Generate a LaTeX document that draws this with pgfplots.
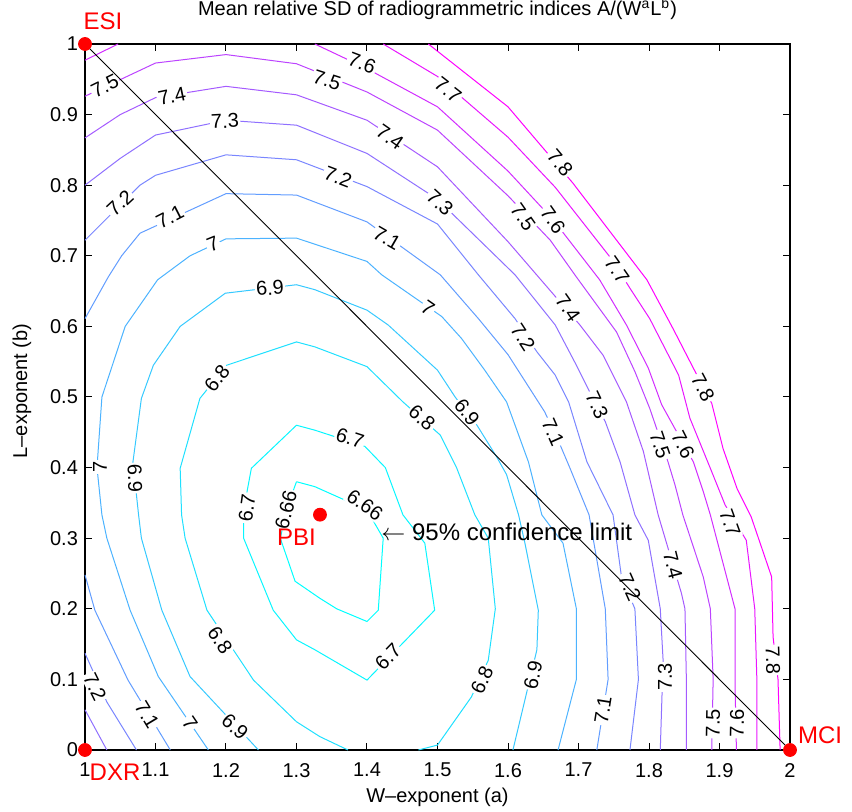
\documentclass[border=0pt]{standalone}
\usepackage{fontspec}
\setmainfont{Liberation Sans}
\usepackage{pgfplots}
\pgfplotsset{compat=1.18}
\definecolor{c666}{rgb}{0,1,1}
\definecolor{c67}{rgb}{0.035,0.965,1}
\definecolor{c68}{rgb}{0.123,0.877,1}
\definecolor{c69}{rgb}{0.211,0.789,1}
\definecolor{c70}{rgb}{0.298,0.702,1}
\definecolor{c71}{rgb}{0.386,0.614,1}
\definecolor{c72}{rgb}{0.474,0.526,1}
\definecolor{c73}{rgb}{0.561,0.439,1}
\definecolor{c74}{rgb}{0.649,0.351,1}
\definecolor{c75}{rgb}{0.737,0.263,1}
\definecolor{c76}{rgb}{0.825,0.175,1}
\definecolor{c77}{rgb}{0.912,0.088,1}
\definecolor{c78}{rgb}{1,0,1}
\tikzset{clab/.style={fill=white, inner sep=0.7pt, text=black, font=\fontsize{10}{12}\selectfont},
  redlab/.style={text=red, inner sep=0pt, font=\fontsize{12}{14}\selectfont}}
% label at reference pixel position (px,py), rotated
\newcommand\lab[4]{%
  \pgfmathsetmacro\la{1+(#1-85)/705}%
  \pgfmathsetmacro\lb{(750-#2)/706}%
  \edef\temp{\noexpand\node[clab,rotate=#3] at (axis cs:\la,\lb) {#4};}%
  \temp}
\begin{document}
\begin{tikzpicture}
\begin{axis}[name=ax, scale only axis, width=352.5pt, height=353pt,
  xmin=1, xmax=2, ymin=0, ymax=1, clip=false,
  xtick={1,1.1,1.2,1.3,1.4,1.5,1.6,1.7,1.8,1.9,2},
  ytick={0,0.1,0.2,0.3,0.4,0.5,0.6,0.7,0.8,0.9,1},
  tick align=inside, tick pos=both, xticklabel pos=lower, yticklabel pos=left,
  major tick length=3.5pt,
  every tick/.style={black, line width=0.5pt},
  axis line style={line width=0.9pt},
  /pgf/number format/assume math mode=true,
  tick label style={font=\fontsize{10}{12}\selectfont},
  xticklabel style={yshift=-3pt},
  title={Mean relative SD of radiogrammetric indices A/(W\textsuperscript{a}L\textsuperscript{b})},
  title style={at={(axis description cs:0.5,1)}, anchor=center, yshift=11.5pt, font=\fontsize{10}{12}\selectfont},
  xlabel={W–exponent (a)},
  xlabel style={at={(axis description cs:0.5,0)}, anchor=center, yshift=-23.5pt, font=\fontsize{10}{12}\selectfont},
  ylabel={L–exponent (b)},
  ylabel style={at={(axis description cs:0,0.5085)}, anchor=center, yshift=31.5pt, font=\fontsize{10}{12}\selectfont},
  every axis plot/.append style={line width=0.5pt},
]
% 7.8
\addplot[c78] coordinates {(1.487,1) (1.6,0.911) (1.692,0.803) (1.797,0.666) (1.834,0.597) (1.868,0.531) (1.889,0.491) (1.905,0.427) (1.925,0.37) (1.945,0.33) (1.974,0.245) (1.976,0.16) (1.983,0.1) (1.986,0)};
% 7.7
\addplot[c77] coordinates {(1.423,1) (1.5,0.954) (1.6,0.868) (1.667,0.797) (1.748,0.694) (1.773,0.654) (1.801,0.611) (1.842,0.531) (1.858,0.47) (1.887,0.399) (1.908,0.347) (1.938,0.297) (1.95,0.2) (1.953,0.1) (1.953,0)};
% 7.6
\addplot[c76] coordinates {(1,0.977) (1.047,1)};
\addplot[c76] coordinates {(1.326,1) (1.4,0.965) (1.5,0.911) (1.6,0.82) (1.664,0.751) (1.73,0.666) (1.768,0.602) (1.799,0.541) (1.818,0.489) (1.863,0.408) (1.877,0.366) (1.887,0.333) (1.922,0.2) (1.922,0.095) (1.924,0)};
% 7.5
\addplot[c75] coordinates {(1,0.926) (1.1,0.973) (1.2,0.985) (1.3,0.972) (1.4,0.932) (1.5,0.878) (1.6,0.785) (1.66,0.722) (1.697,0.67) (1.754,0.592) (1.78,0.536) (1.801,0.484) (1.827,0.408) (1.837,0.375) (1.848,0.333) (1.877,0.245) (1.887,0.2) (1.891,0.1) (1.889,0)};
% 7.4
\addplot[c74] coordinates {(1,0.867) (1.05,0.9) (1.1,0.924) (1.2,0.94) (1.3,0.928) (1.4,0.892) (1.5,0.826) (1.6,0.72) (1.702,0.602) (1.735,0.559) (1.768,0.493) (1.792,0.423) (1.813,0.333) (1.846,0.222) (1.851,0.2) (1.853,0.1) (1.853,0)};
% 7.3
\addplot[c73] coordinates {(1,0.8) (1.05,0.838) (1.1,0.871) (1.2,0.892) (1.3,0.885) (1.4,0.845) (1.5,0.78) (1.61,0.673) (1.667,0.602) (1.697,0.545) (1.716,0.507) (1.738,0.465) (1.759,0.408) (1.78,0.333) (1.799,0.297) (1.816,0.2) (1.82,0.127) (1.816,0)};
\addplot[c73] coordinates {(1,0.057) (1.031,0)};
% 7.2
\addplot[c72] coordinates {(1,0.722) (1.078,0.8) (1.1,0.814) (1.2,0.843) (1.3,0.836) (1.4,0.798) (1.5,0.745) (1.558,0.673) (1.61,0.611) (1.641,0.564) (1.667,0.531) (1.686,0.493) (1.712,0.408) (1.749,0.333) (1.761,0.245) (1.78,0.2) (1.785,0.1) (1.773,0)};
\addplot[c72] coordinates {(1,0.137) (1.031,0.068) (1.073,0)};
% 7.1
\addplot[c71] coordinates {(1,0.611) (1.033,0.67) (1.052,0.7) (1.078,0.732) (1.2,0.788) (1.3,0.786) (1.4,0.748) (1.504,0.673) (1.558,0.611) (1.6,0.56) (1.652,0.479) (1.674,0.432) (1.688,0.399) (1.715,0.333) (1.738,0.2) (1.742,0.1) (1.726,0)};
\addplot[c71] coordinates {(1,0.248) (1.014,0.198) (1.061,0.099) (1.121,0)};
% 7.0
\addplot[c70] coordinates {(1.175,0) (1.104,0.104) (1.064,0.198) (1.031,0.3) (1.024,0.333) (1.017,0.4) (1.024,0.5) (1.057,0.6) (1.103,0.666) (1.149,0.7) (1.2,0.724) (1.3,0.725) (1.4,0.692) (1.421,0.673) (1.506,0.614) (1.534,0.583) (1.567,0.538) (1.598,0.493) (1.629,0.408) (1.648,0.333) (1.678,0.293) (1.697,0.2) (1.697,0.1) (1.671,0)};
% 6.9
\addplot[c69] coordinates {(1.246,0) (1.149,0.104) (1.109,0.198) (1.08,0.3) (1.076,0.333) (1.068,0.408) (1.08,0.498) (1.097,0.545) (1.135,0.6) (1.199,0.647) (1.3,0.659) (1.326,0.652) (1.4,0.623) (1.43,0.602) (1.5,0.538) (1.525,0.5) (1.556,0.46) (1.584,0.415) (1.598,0.39) (1.615,0.333) (1.624,0.293) (1.643,0.198) (1.641,0.142) (1.607,0)};
% 6.8
\addplot[c68] coordinates {(1.373,0) (1.333,0.019) (1.3,0.04) (1.239,0.099) (1.173,0.198) (1.142,0.3) (1.137,0.333) (1.135,0.399) (1.163,0.498) (1.201,0.545) (1.3,0.578) (1.326,0.571) (1.4,0.543) (1.451,0.493) (1.504,0.446) (1.527,0.4) (1.553,0.333) (1.572,0.3) (1.582,0.2) (1.572,0.127) (1.548,0.075) (1.5,0.007) (1.473,0)};
% 6.7
\addplot[c67] coordinates {(1.3,0.46) (1.326,0.453) (1.397,0.43) (1.426,0.4) (1.451,0.333) (1.482,0.293) (1.496,0.198) (1.4,0.099) (1.326,0.142) (1.3,0.156) (1.267,0.198) (1.225,0.3) (1.225,0.34) (1.236,0.399) (1.3,0.46)};
% 6.66
\addplot[c666] coordinates {(1.3,0.38) (1.326,0.373) (1.4,0.34) (1.423,0.3) (1.416,0.198) (1.4,0.182) (1.357,0.2) (1.333,0.215) (1.298,0.239) (1.277,0.3) (1.288,0.347) (1.3,0.38)};
% contour labels
\lab{105}{86}{26}{7.5}
\lab{172}{96}{12}{7.4}
\lab{225}{121}{3}{7.3}
\lab{120}{203}{43}{7.2}
\lab{170}{217}{27}{7.1}
\lab{213}{244}{22}{7}
\lab{362}{63}{-21}{7.6}
\lab{327}{80}{-18}{7.5}
\lab{448}{90}{-38}{7.7}
\lab{390}{137}{-35}{7.4}
\lab{338}{177}{-21}{7.2}
\lab{440}{203}{-42}{7.3}
\lab{523}{217}{-55}{7.5}
\lab{553}{220}{-55}{7.6}
\lab{387}{238}{-30}{7.1}
\lab{560}{163}{-50}{7.8}
\lab{617}{270}{-55}{7.7}
\lab{270}{288}{4}{6.9}
\lab{217}{378}{52}{6.8}
\lab{100}{467}{90}{7}
\lab{135}{478}{-88}{6.9}
\lab{247}{508}{82}{6.7}
\lab{286}{510}{76}{6.66}
\lab{365}{505}{-36}{6.66}
\lab{350}{438}{-18}{6.7}
\lab{422}{418}{-42}{6.8}
\lab{467}{412}{-53}{6.9}
\lab{428}{308}{-35}{7}
\lab{523}{337}{-57}{7.2}
\lab{553}{432}{-66}{7.1}
\lab{568}{308}{-55}{7.4}
\lab{597}{405}{-65}{7.3}
\lab{703}{388}{-62}{7.8}
\lab{660}{445}{-71}{7.5}
\lab{683}{445}{-63}{7.6}
\lab{220}{640}{-56}{6.8}
\lab{95}{687}{-64}{7.2}
\lab{147}{715}{-59}{7.1}
\lab{190}{723}{-56}{7}
\lab{235}{727}{-42}{6.9}
\lab{388}{657}{46}{6.7}
\lab{482}{680}{65}{6.8}
\lab{533}{675}{78}{6.9}
\lab{603}{710}{81}{7.1}
\lab{630}{587}{-66}{7.2}
\lab{665}{677}{90}{7.3}
\lab{673}{565}{-76}{7.4}
\lab{713}{723}{89}{7.5}
\lab{737}{723}{89}{7.6}
\lab{730}{523}{-70}{7.7}
\lab{773}{660}{-88}{7.8}
% diagonal
\addplot[black, line width=0.45pt] coordinates {(1,1) (2,0)};
% points
\addplot[only marks, mark=*, red, mark size=3.2pt] coordinates {(1,1) (1,0) (2,0) (1.3333,0.3333)};
\node[redlab] at (axis cs:1.0255,1.0326) {ESI};
\node[redlab] at (axis cs:1.0426,-0.0312) {DXR};
\node[redlab] at (axis cs:2.0426,0.0212) {MCI};
\node[redlab] at (axis cs:1.3,0.3017) {PBI};
\node[anchor=west, inner sep=0pt, font=\fontsize{12}{14}\selectfont] at (axis cs:1.4199,0.3088) {$\leftarrow$ 95\% confidence limit};
\end{axis}
\pgfresetboundingbox
\path ([shift={(-42.5pt,-31pt)}]ax.south west) rectangle ([shift={(31pt,22pt)}]ax.north east);
\end{tikzpicture}
\end{document}
